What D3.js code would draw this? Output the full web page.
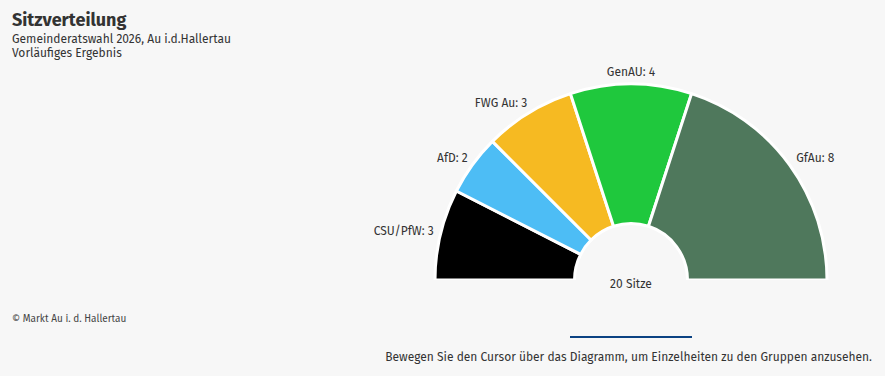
<!DOCTYPE html>
<html>
<head>
<meta charset="utf-8">
<script src="https://cdn.jsdelivr.net/npm/d3@7"></script>
<style>
	body { margin: 0; background: #f7f7f7; }
	svg { display: block; font-family: "Fira Sans", Roboto, "Noto Sans", sans-serif; }
</style>
</head>
<body>
<div id="chart"></div>
<script>
// data
// ----------------------------------------

var parties = ["CSU/PfW", "AfD", "FWG Au", "GenAU", "GfAu"];
var seats = [3, 2, 3, 4, 8];
var colors = ["#000000", "#4dbdf5", "#f6ba22", "#1fc83d", "#4f785c"];

var title = "Sitzverteilung";
var subtitle = ["Gemeinderatswahl 2026, Au i.d.Hallertau", "Vorläufiges Ergebnis"];
var credits = "© Markt Au i. d. Hallertau";
var hint = "Bewegen Sie den Cursor über das Diagramm, um Einzelheiten zu den Gruppen anzusehen.";

// main variables
// ----------------------------------------

var width = 885,
	height = 376;

var cx = 631, cy = 280,
	outer = 196, inner = 56.5;

var svg = d3.select("#chart")
	.append("svg")
	.attr("width", width)
	.attr("height", height)

svg.append("rect")
	.attr("width", width)
	.attr("height", height)
	.attr("fill", "#f7f7f7")

// header
svg.append("text")
	.attr("x", 12)
	.attr("y", 26)
	.attr("font-size", 18)
	.attr("font-weight", "bold")
	.attr("fill", "#333")
	.text(title)

svg.selectAll(".sub")
	.data(subtitle)
	.enter()
	.append("text")
	.attr("class", "sub")
	.attr("x", 12)
	.attr("y", function(d, i){ return 43 + i * 14 })
	.attr("font-size", 12)
	.attr("fill", "#333")
	.text(function(d){ return d })

// seat chart
// ----------------------------------------

var data = parties.map(function(p, i){
	return {name: p, seats: seats[i], color: colors[i]}
})

var total = d3.sum(seats);

var pie = d3.pie()
	.value(function(d){ return d.seats })
	.sort(null)
	.startAngle(-Math.PI / 2)
	.endAngle(Math.PI / 2)

var arc = d3.arc()
	.innerRadius(inner)
	.outerRadius(outer)

var plot = svg.append("g")
	.attr("transform", "translate(" + cx + "," + cy + ")")

var slices = pie(data);

plot.selectAll("path")
	.data(slices)
	.enter()
	.append("path")
	.attr("d", arc)
	.attr("fill", function(d){ return d.data.color })
	.attr("stroke", "#ffffff")
	.attr("stroke-width", 3)
	.attr("stroke-linejoin", "round")

// hide the white stroke along the flat bottom edge
plot.append("rect")
	.attr("x", -outer - 3)
	.attr("y", 0)
	.attr("width", (outer + 3) * 2)
	.attr("height", 4)
	.attr("fill", "#f7f7f7")

var labelR = 208;

plot.selectAll(".label")
	.data(slices)
	.enter()
	.append("text")
	.attr("class", "label")
	.attr("x", function(d){
		var a = (d.startAngle + d.endAngle) / 2;
		var s = Math.sin(a);
		return labelR * s + (s < -0.1 ? 5 : (s > 0.1 ? -3 : 0));
	})
	.attr("y", function(d){
		var a = (d.startAngle + d.endAngle) / 2;
		return -labelR * Math.cos(a) + 4;
	})
	.attr("text-anchor", function(d){
		var s = Math.sin((d.startAngle + d.endAngle) / 2);
		return s < -0.1 ? "end" : (s > 0.1 ? "start" : "middle");
	})
	.attr("font-size", 12)
	.attr("fill", "#333")
	.text(function(d){ return d.data.name + ": " + d.data.seats })

plot.append("text")
	.attr("x", 0)
	.attr("y", 8)
	.attr("text-anchor", "middle")
	.attr("font-size", 12)
	.attr("fill", "#333")
	.text(total + " Sitze")

// footer
// ----------------------------------------

svg.append("text")
	.attr("x", 12)
	.attr("y", 322)
	.attr("font-size", 10)
	.attr("fill", "#444")
	.text(credits)

svg.append("line")
	.attr("x1", 570)
	.attr("x2", 692)
	.attr("y1", 337)
	.attr("y2", 337)
	.attr("stroke", "#0b4283")
	.attr("stroke-width", 2)

svg.append("text")
	.attr("x", 872)
	.attr("y", 361)
	.attr("text-anchor", "end")
	.attr("font-size", 12)
	.attr("fill", "#333")
	.text(hint)
</script>
</body>
</html>
